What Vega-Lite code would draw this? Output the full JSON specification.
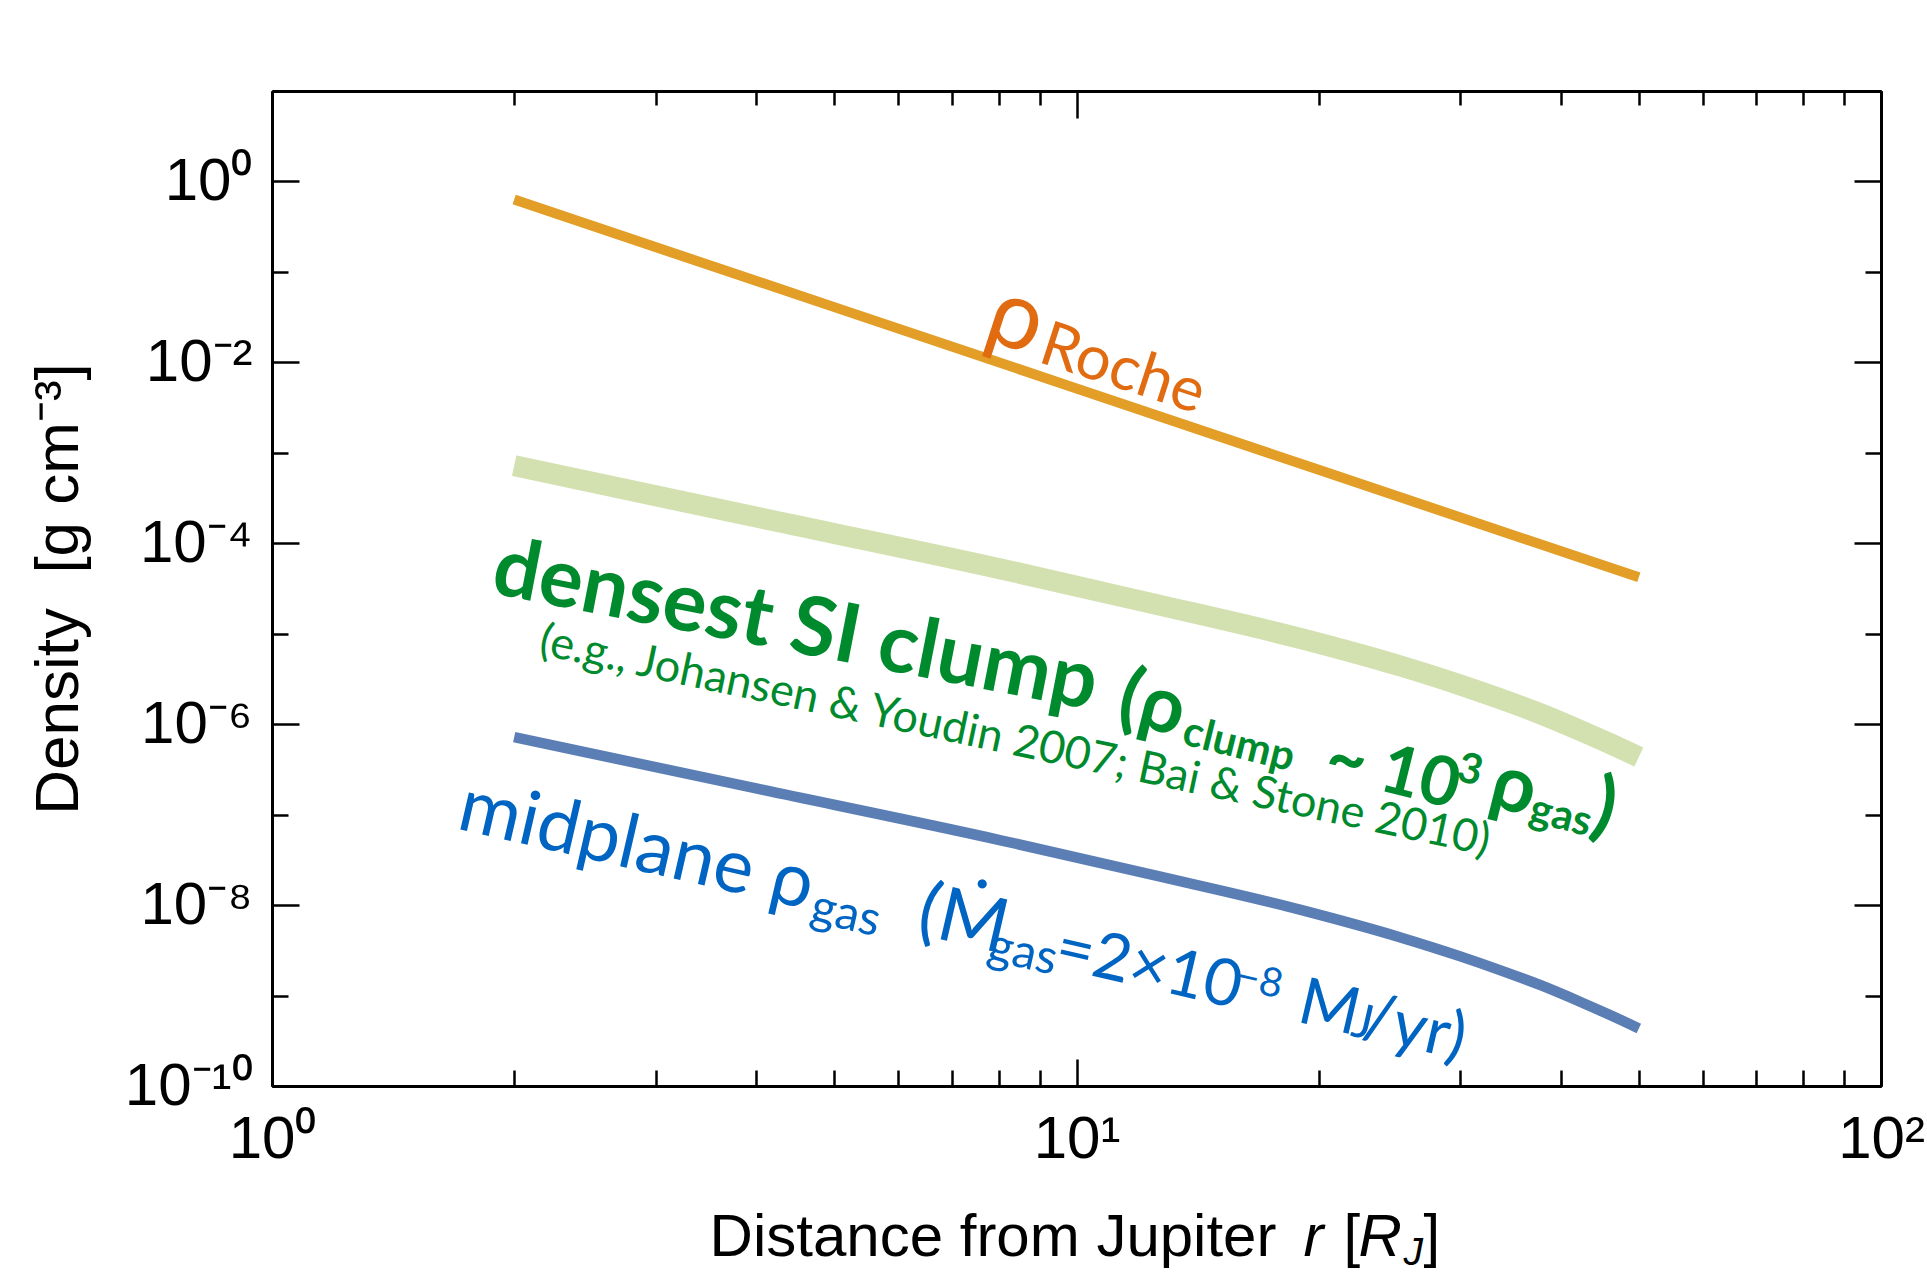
{
  "$schema": "https://vega.github.io/schema/vega-lite/v6.json",
  "width": 1609,
  "height": 995,
  "autosize": {"type": "none"},
  "padding": {"left": 272, "top": 91, "right": 46, "bottom": 188},
  "background": "white",
  "config": {
    "view": {"stroke": null},
    "axis": {
      "grid": false,
      "domainColor": "black",
      "domainWidth": 3,
      "tickColor": "black",
      "tickWidth": 2.5,
      "labelFont": "Liberation Sans",
      "labelFontSize": 60,
      "labelColor": "black",
      "titleFont": "Liberation Sans",
      "titleFontSize": 62,
      "titleFontWeight": "normal",
      "titleColor": "black",
      "labelFlush": false,
      "labelOverlap": false
    }
  },
  "datasets": {
    "roche": [
      {"r": 2, "rho": 0.63},
      {"r": 5, "rho": 0.0408},
      {"r": 10, "rho": 0.00515},
      {"r": 20, "rho": 0.000649},
      {"r": 50, "rho": 0.000042}
    ],
    "gas": [
      {"r": 2, "rho": 7.2e-7},
      {"r": 3.93, "rho": 2.01e-7},
      {"r": 8.05, "rho": 5.21e-8},
      {"r": 12.36, "rho": 2.18e-8},
      {"r": 19, "rho": 8.85e-9},
      {"r": 25.28, "rho": 4.39e-9},
      {"r": 30, "rho": 2.71e-9},
      {"r": 33.66, "rho": 1.9e-9},
      {"r": 37.75, "rho": 1.3e-9},
      {"r": 42.32, "rho": 8.49e-10},
      {"r": 46.12, "rho": 6.05e-10},
      {"r": 50, "rho": 4.33e-10}
    ],
    "clump": [
      {"r": 2, "rho": 7.2e-4},
      {"r": 3.93, "rho": 2.01e-4},
      {"r": 8.05, "rho": 5.21e-5},
      {"r": 12.36, "rho": 2.18e-5},
      {"r": 19, "rho": 8.85e-6},
      {"r": 25.28, "rho": 4.39e-6},
      {"r": 30, "rho": 2.71e-6},
      {"r": 33.66, "rho": 1.9e-6},
      {"r": 37.75, "rho": 1.3e-6},
      {"r": 42.32, "rho": 8.49e-7},
      {"r": 46.12, "rho": 6.05e-7},
      {"r": 50, "rho": 4.33e-7}
    ],
    "labels": [
      {"r": 7.62, "rho": 0.0183, "text": "ρ", "g": "roche_rho"},
      {"r": 8.92, "rho": 0.0102, "text": "Roche", "g": "roche_sub"},
      {"r": 1.863, "rho": 2.83e-5, "text": "densest SI clump", "g": "clump1"},
      {"r": 11.15, "rho": 1.1e-6, "text": "(ρ", "g": "clump2"},
      {"r": 13.47, "rho": 6.07e-7, "text": "clump", "g": "clump_sub"},
      {"r": 20.22, "rho": 2.67e-7, "text": "~ 10", "g": "clump3"},
      {"r": 29.55, "rho": 2.42e-7, "text": "3", "g": "clump_sub"},
      {"r": 32.34, "rho": 1.27e-7, "text": "ρ", "g": "clump2"},
      {"r": 36.37, "rho": 8.47e-8, "text": "gas", "g": "clump_sub"},
      {"r": 43.3, "rho": 6.91e-8, "text": ")", "g": "clump2"},
      {"r": 2.138, "rho": 5.98e-6, "text": "(e.g., Johansen & Youdin 2007; Bai & Stone 2010)", "g": "clump_ref"},
      {"r": 1.69, "rho": 7.09e-8, "text": "midplane ρ", "g": "gas_main"},
      {"r": 4.643, "rho": 6.7e-9, "text": "gas", "g": "gas_sub"},
      {"r": 6.289, "rho": 4.88e-9, "text": "(Ṁ", "g": "gas_main"},
      {"r": 7.706, "rho": 2.51e-9, "text": "gas", "g": "gas_sub"},
      {"r": 9.337, "rho": 2.1e-9, "text": "=2×10", "g": "gas_num"},
      {"r": 15.7, "rho": 1.21e-9, "text": "−8", "g": "gas_sup"},
      {"r": 18.72, "rho": 5.18e-10, "text": "M", "g": "gas_num"},
      {"r": 21.85, "rho": 3.62e-10, "text": "J", "g": "gas_sub"},
      {"r": 22.54, "rho": 3.5e-10, "text": "/yr)", "g": "gas_num"},
      {"r": 3.499, "rho": 1.33e-12, "text": "Distance from Jupiter", "g": "xt"},
      {"r": 19.15, "rho": 1.33e-12, "text": "r", "g": "xt_it"},
      {"r": 21.47, "rho": 1.33e-12, "text": "[", "g": "xt"},
      {"r": 22.42, "rho": 1.33e-12, "text": "R", "g": "xt_it"},
      {"r": 25.5, "rho": 1.06e-12, "text": "J", "g": "xt_sub"},
      {"r": 27.0, "rho": 1.33e-12, "text": "]", "g": "xt"}
    ]
  },
  "encoding": {
    "x": {"field": "r", "type": "quantitative", "scale": {"type": "log", "domain": [1, 100]}, "axis": null},
    "y": {"field": "rho", "type": "quantitative", "scale": {"type": "log", "domain": [1e-10, 10]}, "axis": null}
  },
  "resolve": {"axis": {"x": "independent", "y": "independent"}},
  "layer": [
    {
      "data": {"name": "clump"},
      "mark": {"type": "line", "color": "#D3E0B0", "strokeWidth": 21, "strokeCap": "butt", "interpolate": "monotone"},
      "encoding": {
        "x": {"field": "r", "type": "quantitative", "scale": {"type": "log", "domain": [1, 100]},
          "axis": {"orient": "bottom", "values": [1, 10, 100], "labelExpr": "datum.value < 5 ? '10⁰' : datum.value < 50 ? '10¹' : '10²'", "tickSize": -27, "labelPadding": 51, "title": null}},
        "y": {"field": "rho", "type": "quantitative", "scale": {"type": "log", "domain": [1e-10, 10]},
          "axis": {"orient": "left", "values": [1e-10, 1e-8, 1e-6, 1e-4, 0.01, 1], "labelExpr": "datum.value > 0.5 ? '10⁰' : datum.value > 5e-3 ? '10⁻²' : datum.value > 5e-5 ? '10⁻⁴' : datum.value > 5e-7 ? '10⁻⁶' : datum.value > 5e-9 ? '10⁻⁸' : '10⁻¹⁰'", "tickSize": -27, "labelPadding": 47, "title": "Density\u00a0 [g cm⁻³]", "titlePadding": 34}}
      }
    },
    {
      "data": {"name": "gas"},
      "mark": {"type": "line", "color": "#5B7EB5", "strokeWidth": 10.5, "strokeCap": "butt", "interpolate": "monotone"},
      "encoding": {
        "x": {"field": "r", "type": "quantitative", "scale": {"type": "log", "domain": [1, 100]},
          "axis": {"orient": "bottom", "values": [2, 3, 4, 5, 6, 7, 8, 9, 20, 30, 40, 50, 60, 70, 80, 90], "labels": false, "tickSize": -16, "title": null}},
        "y": {"field": "rho", "type": "quantitative", "scale": {"type": "log", "domain": [1e-10, 10]},
          "axis": {"orient": "left", "values": [1e-9, 1e-7, 1e-5, 1e-3, 0.1], "labels": false, "tickSize": -16, "title": null}}
      }
    },
    {
      "data": {"name": "roche"},
      "mark": {"type": "line", "color": "#E29E26", "strokeWidth": 10, "strokeCap": "butt"},
      "encoding": {
        "x": {"field": "r", "type": "quantitative", "scale": {"type": "log", "domain": [1, 100]},
          "axis": {"orient": "top", "values": [1, 10, 100], "labels": false, "tickSize": -27, "title": null}},
        "y": {"field": "rho", "type": "quantitative", "scale": {"type": "log", "domain": [1e-10, 10]},
          "axis": {"orient": "right", "values": [1e-10, 1e-8, 1e-6, 1e-4, 0.01, 1], "labels": false, "tickSize": -27, "title": null}}
      }
    },
    {
      "data": {"name": "labels"},
      "transform": [{"filter": "datum.g == 'xt'"}],
      "mark": {"type": "text", "font": "Liberation Sans", "fontSize": 60, "align": "left", "baseline": "alphabetic", "color": "black"},
      "encoding": {
        "x": {"field": "r", "type": "quantitative", "scale": {"type": "log", "domain": [1, 100]},
          "axis": {"orient": "top", "values": [2, 3, 4, 5, 6, 7, 8, 9, 20, 30, 40, 50, 60, 70, 80, 90], "labels": false, "tickSize": -14, "title": null}},
        "y": {"field": "rho", "type": "quantitative", "scale": {"type": "log", "domain": [1e-10, 10]},
          "axis": {"orient": "right", "values": [1e-9, 1e-7, 1e-5, 1e-3, 0.1], "labels": false, "tickSize": -16, "title": null}},
        "text": {"field": "text"}
      }
    },
    {
      "data": {"name": "labels"},
      "transform": [{"filter": "datum.g == 'xt_it'"}],
      "mark": {"type": "text", "font": "Liberation Sans", "fontSize": 60, "fontStyle": "italic", "align": "left", "baseline": "alphabetic", "color": "black"},
      "encoding": {"text": {"field": "text"}}
    },
    {
      "data": {"name": "labels"},
      "transform": [{"filter": "datum.g == 'xt_sub'"}],
      "mark": {"type": "text", "font": "Liberation Sans", "fontSize": 39, "fontStyle": "italic", "align": "left", "baseline": "alphabetic", "color": "black"},
      "encoding": {"text": {"field": "text"}}
    },
    {
      "data": {"name": "labels"},
      "transform": [{"filter": "datum.g == 'roche_rho'"}],
      "mark": {"type": "text", "font": "Lato", "fontSize": 96, "angle": 18, "align": "left", "baseline": "alphabetic", "color": "#E06B10"},
      "encoding": {"text": {"field": "text"}}
    },
    {
      "data": {"name": "labels"},
      "transform": [{"filter": "datum.g == 'roche_sub'"}],
      "mark": {"type": "text", "font": "Lato", "fontSize": 62, "angle": 18, "align": "left", "baseline": "alphabetic", "color": "#E06B10"},
      "encoding": {"text": {"field": "text"}}
    },
    {
      "data": {"name": "labels"},
      "transform": [{"filter": "datum.g == 'clump1'"}],
      "mark": {"type": "text", "font": "Lato", "fontSize": 82, "fontWeight": "bold", "angle": 11, "align": "left", "baseline": "alphabetic", "color": "#008A2E"},
      "encoding": {"text": {"field": "text"}}
    },
    {
      "data": {"name": "labels"},
      "transform": [{"filter": "datum.g == 'clump2'"}],
      "mark": {"type": "text", "font": "Lato", "fontSize": 78, "fontWeight": "bold", "angle": 14, "align": "left", "baseline": "alphabetic", "color": "#008A2E"},
      "encoding": {"text": {"field": "text"}}
    },
    {
      "data": {"name": "labels"},
      "transform": [{"filter": "datum.g == 'clump3'"}],
      "mark": {"type": "text", "font": "Lato", "fontSize": 68, "fontWeight": "bold", "angle": 14, "align": "left", "baseline": "alphabetic", "color": "#008A2E"},
      "encoding": {"text": {"field": "text"}}
    },
    {
      "data": {"name": "labels"},
      "transform": [{"filter": "datum.g == 'clump_sub'"}],
      "mark": {"type": "text", "font": "Lato", "fontSize": 42, "fontWeight": "bold", "angle": 14, "align": "left", "baseline": "alphabetic", "color": "#008A2E"},
      "encoding": {"text": {"field": "text"}}
    },
    {
      "data": {"name": "labels"},
      "transform": [{"filter": "datum.g == 'clump_ref'"}],
      "mark": {"type": "text", "font": "Lato", "fontSize": 45, "angle": 12, "align": "left", "baseline": "alphabetic", "color": "#008A2E"},
      "encoding": {"text": {"field": "text"}}
    },
    {
      "data": {"name": "labels"},
      "transform": [{"filter": "datum.g == 'gas_main'"}],
      "mark": {"type": "text", "font": "Lato", "fontSize": 75, "angle": 13, "align": "left", "baseline": "alphabetic", "color": "#0064C3"},
      "encoding": {"text": {"field": "text"}}
    },
    {
      "data": {"name": "labels"},
      "transform": [{"filter": "datum.g == 'gas_num'"}],
      "mark": {"type": "text", "font": "Lato", "fontSize": 65, "angle": 13, "align": "left", "baseline": "alphabetic", "color": "#0064C3"},
      "encoding": {"text": {"field": "text"}}
    },
    {
      "data": {"name": "labels"},
      "transform": [{"filter": "datum.g == 'gas_sub'"}],
      "mark": {"type": "text", "font": "Lato", "fontSize": 48, "angle": 13, "align": "left", "baseline": "alphabetic", "color": "#0064C3"},
      "encoding": {"text": {"field": "text"}}
    },
    {
      "data": {"name": "labels"},
      "transform": [{"filter": "datum.g == 'gas_sup'"}],
      "mark": {"type": "text", "font": "Lato", "fontSize": 40, "angle": 13, "align": "left", "baseline": "alphabetic", "color": "#0064C3"},
      "encoding": {"text": {"field": "text"}}
    }
  ]
}
